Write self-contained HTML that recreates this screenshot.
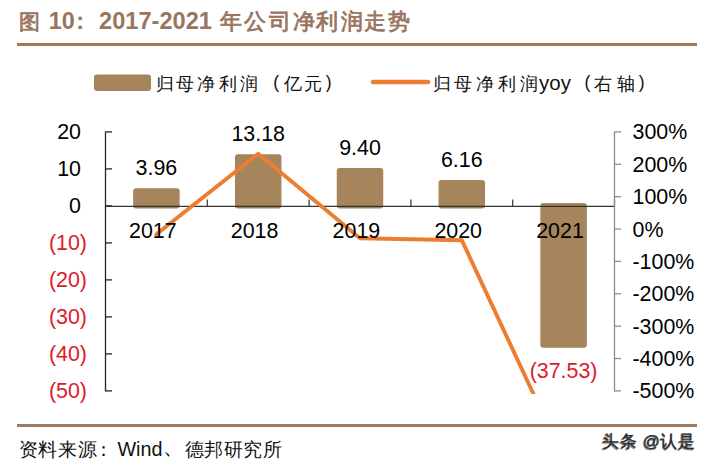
<!DOCTYPE html>
<html><head><meta charset="utf-8">
<title>2017-2021 年公司净利润走势</title>
<style>
html,body{margin:0;padding:0;background:#fff;width:709px;height:464px;overflow:hidden}
svg{display:block}
text{font-family:"Liberation Sans",sans-serif}
</style></head>
<body>
<svg width="709" height="464" viewBox="0 0 709 464">
<defs><clipPath id="pc"><rect x="0" y="0" width="709" height="394"/></clipPath></defs>
<g fill="#997560" font-weight="bold">
<text x="29.6" y="29" font-size="21" text-anchor="middle" font-weight="normal" stroke="#997560" stroke-width="0.8">图</text>
<text x="48.8" y="28.8" font-size="23.4">10</text>
<text x="80.2" y="28.8" font-size="23.4" text-anchor="middle">:</text>
<text x="99.1" y="28.8" font-size="23.6">2017-2021</text>
<text x="230.5 254.9 279.5 303.5 327.4 351.5 374.8 399.2" y="29" font-size="21.5" text-anchor="middle" font-weight="normal" stroke="#997560" stroke-width="0.8">年公司净利润走势</text>
</g>
<rect x="17" y="43" width="680" height="3" fill="#A07A5A"/>
<rect x="94" y="74.5" width="57" height="16.5" rx="3" fill="#A6845C"/>
<g fill="#111" font-size="17.5" text-anchor="middle">
<text x="164.75 184.85 206.25 227.7 248.5" y="89.6">归母净利润</text>
<text x="276.3" y="88" font-size="17.6">(</text>
<text x="292.7 313.45" y="89.6">亿元</text>
<text x="328.7" y="88" font-size="17.6">)</text>
<line x1="373" y1="82" x2="428" y2="82" stroke="#ED7D31" stroke-width="4.5" stroke-linecap="round"/>
<text x="442 463.35 485 506.8 528.5" y="89.6">归母净利润</text>
<text x="555" y="89.6" font-size="20.5">yoy</text>
<text x="587.5" y="88" font-size="17.6">(</text>
<text x="603.2 625.5" y="89.6">右轴</text>
<text x="641.6" y="88" font-size="17.6">)</text>
</g>
<g fill="#A6845C">
<rect x="133.15" y="188.25" width="46.5" height="20.15" rx="3"/>
<rect x="234.95" y="154.13" width="46.5" height="54.27" rx="3"/>
<rect x="336.75" y="168.12" width="46.5" height="40.28" rx="3"/>
<rect x="438.55" y="180.11" width="46.5" height="28.29" rx="3"/>
<rect x="540.35" y="202.9" width="46.5" height="144.86" rx="3"/>
</g>
<g stroke="#262626" stroke-width="1.3" fill="none">
<line x1="105.5" y1="131.4" x2="105.5" y2="391.4"/>
<line x1="105.5" y1="131.9" x2="112.0" y2="131.9"/>
<line x1="105.5" y1="168.9" x2="112.0" y2="168.9"/>
<line x1="105.5" y1="205.9" x2="112.0" y2="205.9"/>
<line x1="105.5" y1="242.9" x2="112.0" y2="242.9"/>
<line x1="105.5" y1="279.9" x2="112.0" y2="279.9"/>
<line x1="105.5" y1="316.9" x2="112.0" y2="316.9"/>
<line x1="105.5" y1="353.9" x2="112.0" y2="353.9"/>
<line x1="105.5" y1="390.9" x2="112.0" y2="390.9"/>
</g>
<g stroke="#333" stroke-width="1.2" fill="none">
<line x1="105.5" y1="206.4" x2="614.5" y2="206.4"/>
<line x1="207.3" y1="199.6" x2="207.3" y2="206.4"/>
<line x1="309.1" y1="199.6" x2="309.1" y2="206.4"/>
<line x1="410.9" y1="199.6" x2="410.9" y2="206.4"/>
<line x1="512.7" y1="199.6" x2="512.7" y2="206.4"/>
<line x1="614.5" y1="199.6" x2="614.5" y2="206.4"/>
</g>
<g stroke="#8C8C8C" stroke-width="1.3" fill="none">
<line x1="614.5" y1="131.4" x2="614.5" y2="391.4"/>
<line x1="614.5" y1="131.9" x2="621.0" y2="131.9"/>
<line x1="614.5" y1="164.28" x2="621.0" y2="164.28"/>
<line x1="614.5" y1="196.65" x2="621.0" y2="196.65"/>
<line x1="614.5" y1="229.03" x2="621.0" y2="229.03"/>
<line x1="614.5" y1="261.4" x2="621.0" y2="261.4"/>
<line x1="614.5" y1="293.77" x2="621.0" y2="293.77"/>
<line x1="614.5" y1="326.15" x2="621.0" y2="326.15"/>
<line x1="614.5" y1="358.52" x2="621.0" y2="358.52"/>
<line x1="614.5" y1="390.9" x2="621.0" y2="390.9"/>
</g>
<polyline clip-path="url(#pc)" points="156.4,234.21 258.2,153.66 360,238.32 461.8,240.19 563.6,458.66" fill="none" stroke="#ED7D31" stroke-width="3.9" stroke-linecap="round" stroke-linejoin="round"/>
<g font-size="21.4" fill="#000" text-anchor="middle">
<text x="152.8" y="238">2017</text>
<text x="254.6" y="238">2018</text>
<text x="356.4" y="238">2019</text>
<text x="458.2" y="238">2020</text>
<text x="560" y="238">2021</text>
</g>
<g font-size="21.4" fill="#000" text-anchor="middle">
<text x="156.4" y="175.25">3.96</text>
<text x="258.2" y="141.13">13.18</text>
<text x="360" y="155.12">9.40</text>
<text x="461.8" y="167.11">6.16</text>
</g>
<text x="563.6" y="377.8" font-size="21.4" fill="#DC1A28" text-anchor="middle">(37.53)</text>
<g font-size="21.4" text-anchor="end">
<text x="81" y="139.4" fill="#000">20</text>
<text x="81" y="176.4" fill="#000">10</text>
<text x="81" y="213.4" fill="#000">0</text>
<text x="87" y="250.4" fill="#DC1A28">(10)</text>
<text x="87" y="287.4" fill="#DC1A28">(20)</text>
<text x="87" y="324.4" fill="#DC1A28">(30)</text>
<text x="87" y="361.4" fill="#DC1A28">(40)</text>
<text x="87" y="398.4" fill="#DC1A28">(50)</text>
</g>
<g font-size="21.4" fill="#000">
<text x="632.5" y="139.4">300%</text>
<text x="632.5" y="171.78">200%</text>
<text x="632.5" y="204.15">100%</text>
<text x="632.5" y="236.53">0%</text>
<text x="632.5" y="268.9">-100%</text>
<text x="632.5" y="301.27">-200%</text>
<text x="632.5" y="333.65">-300%</text>
<text x="632.5" y="366.02">-400%</text>
<text x="632.5" y="398.4">-500%</text>
</g>
<rect x="17" y="424" width="680" height="3" fill="#9D7B61"/>
<g fill="#111" text-anchor="middle" font-size="19">
<text x="28.2 47.6 67.75 87.55" y="455.5">资料来源</text>
<text x="103" y="455.5">：</text>
<text x="140" y="455.5" font-size="19.8">Wind</text>
<text x="173" y="454.0" font-size="21">、</text>
<text x="194.1 213.9 233.1 252.9 272.6" y="455.5">德邦研究所</text>
</g>
<g text-anchor="middle" font-size="17">
<text x="609.9 627.7 650.6 668.1 685.9" y="448" fill="#8a8a8a" stroke="#8a8a8a" stroke-width="0.5">头条@认是</text>
<text x="610.7 628.5 651.4 668.9 686.7" y="447.2" fill="#2a2a2a" stroke="#2a2a2a" stroke-width="0.25">头条@认是</text>
</g>
</svg>
</body></html>
